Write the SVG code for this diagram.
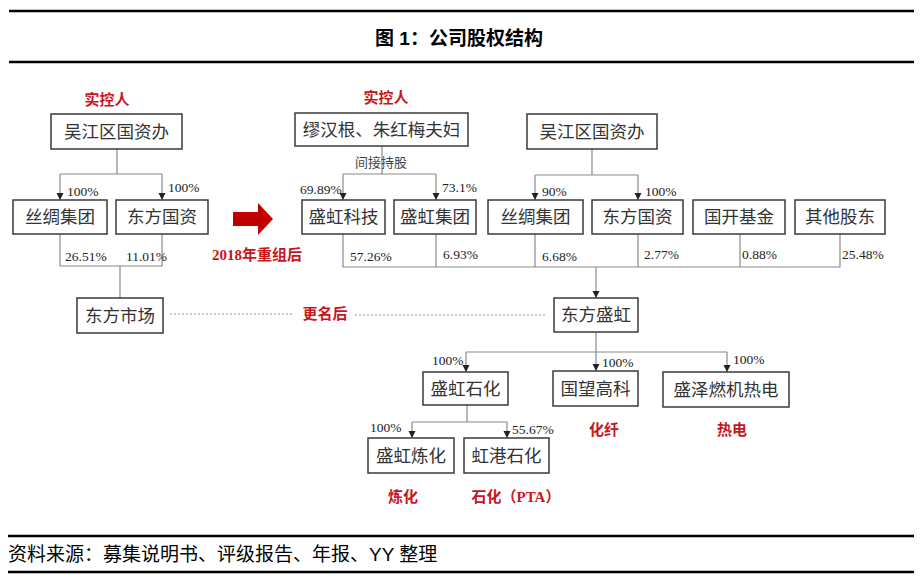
<svg xmlns="http://www.w3.org/2000/svg" width="923" height="580" viewBox="0 0 923 580">
<style>
.box{fill:#fff;stroke:#3a3a3a;stroke-width:1.5}
.bt{font-family:"Liberation Serif","Noto Sans CJK SC",serif;font-size:17.5px;fill:#333;text-anchor:middle;dominant-baseline:central}
.pct{font-family:"Liberation Serif","Noto Sans CJK SC",serif;font-size:13.5px;fill:#222}
.red{font-family:"Liberation Serif","Noto Sans CJK SC",serif;font-size:15px;font-weight:bold;fill:#c8161d;text-anchor:middle;dominant-baseline:central}
.ln{fill:none;stroke:#8a8a8a;stroke-width:1.2}
.ar{fill:none;stroke:#8a8a8a;stroke-width:1.2;marker-end:url(#ah)}
.dot{fill:none;stroke:#999;stroke-width:1;stroke-dasharray:2 2}
.rule{stroke:#000;stroke-width:2.5}
</style>
<defs>
<marker id="ah" markerUnits="userSpaceOnUse" markerWidth="8" markerHeight="8" refX="7" refY="3.5" orient="auto">
<path d="M0,0 L7,3.5 L0,7 Z" fill="#222"/>
</marker>
</defs>
<rect width="923" height="580" fill="#fff"/>
<g id="header">
<line class="rule" x1="9" y1="11" x2="914" y2="11"/>
<text x="459" y="38" font-family="Liberation Sans,'Noto Sans CJK SC',sans-serif" font-size="19" font-weight="bold" text-anchor="middle" dominant-baseline="central" fill="#000">图 1：公司股权结构</text>
<line class="rule" x1="9" y1="62" x2="914" y2="62"/>
</g>
<g id="connectors">
<path class="ln" d="M117 149V174M60 174H162"/>
<path class="ar" d="M60 174V200"/>
<path class="ar" d="M162 174V200"/>
<path class="ln" d="M60 234V266H162V234M120 266V298"/>
<path class="dot" d="M170 314H293M355 315H545"/>
<path class="ln" d="M382 146V174M343 174H436"/>
<path class="ar" d="M343 174V200"/>
<path class="ar" d="M436 174V200"/>
<path class="ln" d="M592 149V175M535 175H638"/>
<path class="ar" d="M535 175V200"/>
<path class="ar" d="M638 175V200"/>
<path class="ln" d="M343 234V267H840V234M436 234V267M535 234V267M638 234V267M740 234V267"/>
<path class="ar" d="M596 267V298"/>
<path class="ln" d="M596 332V352M466 352H727"/>
<path class="ar" d="M466 352V372"/>
<path class="ar" d="M596 352V371"/>
<path class="ar" d="M727 352V372"/>
<path class="ln" d="M467 405V422M412 422H507"/>
<path class="ar" d="M412 422V438"/>
<path class="ar" d="M507 422V438"/>
</g>
<g id="labels">
<text class="pct" x="67" y="196">100%</text>
<text class="pct" x="168" y="192">100%</text>
<text class="pct" x="65" y="261">26.51%</text>
<text class="pct" x="126" y="261">11.01%</text>
<text class="pct" x="300" y="194">69.89%</text>
<text class="pct" x="442" y="192">73.1%</text>
<text class="pct" x="542" y="196">90%</text>
<text class="pct" x="645" y="196">100%</text>
<text class="pct" x="350" y="261">57.26%</text>
<text class="pct" x="443" y="259">6.93%</text>
<text class="pct" x="542" y="261">6.68%</text>
<text class="pct" x="644" y="259">2.77%</text>
<text class="pct" x="742" y="259">0.88%</text>
<text class="pct" x="842" y="259">25.48%</text>
<text class="pct" x="432" y="365">100%</text>
<text class="pct" x="602" y="367">100%</text>
<text class="pct" x="733" y="364">100%</text>
<text class="pct" x="370" y="432">100%</text>
<text class="pct" x="512" y="434">55.67%</text>
<text x="381" y="161" font-family="'Noto Sans CJK SC',sans-serif" font-size="13" fill="#444" text-anchor="middle" dominant-baseline="central">间接持股</text>
<text class="red" x="107" y="100">实控人</text>
<text class="red" x="386" y="98">实控人</text>
<text class="red" x="257" y="255">2018年重组后</text>
<text class="red" x="325" y="314">更名后</text>
<text class="red" x="604" y="430">化纤</text>
<text class="red" x="732" y="430">热电</text>
<text class="red" x="403" y="497">炼化</text>
<text class="red" x="516" y="497">石化（PTA）</text>
</g>
<g id="arrow-big">
<path d="M233 212H258V203L273 219L258 235V226H233Z" fill="#c00000"/>
</g>
<g id="n_wj1"><rect class="box" x="51" y="114" width="131" height="35"/><text class="bt" x="116.5" y="131.5">吴江区国资办</text></g>
<g id="n_sc1"><rect class="box" x="13" y="200" width="94" height="34"/><text class="bt" x="60" y="217">丝绸集团</text></g>
<g id="n_df1"><rect class="box" x="116" y="200" width="92" height="34"/><text class="bt" x="162" y="217">东方国资</text></g>
<g id="n_dfsc"><rect class="box" x="77" y="298" width="86" height="35"/><text class="bt" x="120" y="315.5">东方市场</text></g>
<g id="n_mh"><rect class="box" x="295" y="113" width="173" height="33"/><text class="bt" x="381.5" y="129.5">缪汉根、朱红梅夫妇</text></g>
<g id="n_shkj"><rect class="box" x="302" y="200" width="83" height="34"/><text class="bt" x="343.5" y="217">盛虹科技</text></g>
<g id="n_shjt"><rect class="box" x="394" y="200" width="82" height="34"/><text class="bt" x="435" y="217">盛虹集团</text></g>
<g id="n_wj2"><rect class="box" x="527" y="114" width="130" height="35"/><text class="bt" x="592" y="131.5">吴江区国资办</text></g>
<g id="n_sc2"><rect class="box" x="488" y="200" width="95" height="34"/><text class="bt" x="535.5" y="217">丝绸集团</text></g>
<g id="n_df2"><rect class="box" x="592" y="200" width="91" height="34"/><text class="bt" x="637.5" y="217">东方国资</text></g>
<g id="n_gk"><rect class="box" x="693" y="200" width="92" height="34"/><text class="bt" x="739" y="217">国开基金</text></g>
<g id="n_qt"><rect class="box" x="795" y="200" width="90" height="34"/><text class="bt" x="840" y="217">其他股东</text></g>
<g id="n_dfsh"><rect class="box" x="554" y="298" width="84" height="34"/><text class="bt" x="596" y="315">东方盛虹</text></g>
<g id="n_shsh"><rect class="box" x="423" y="372" width="85" height="33"/><text class="bt" x="465.5" y="388.5">盛虹石化</text></g>
<g id="n_gw"><rect class="box" x="553" y="371" width="85" height="35"/><text class="bt" x="595.5" y="388.5">国望高科</text></g>
<g id="n_sz"><rect class="box" x="663" y="372" width="126" height="35"/><text class="bt" x="726" y="389.5">盛泽燃机热电</text></g>
<g id="n_shlh"><rect class="box" x="368" y="438" width="86" height="35"/><text class="bt" x="411" y="455.5">盛虹炼化</text></g>
<g id="n_hg"><rect class="box" x="464" y="438" width="85" height="35"/><text class="bt" x="506.5" y="455.5">虹港石化</text></g>
<g id="footer">
<line class="rule" x1="8" y1="536" x2="914" y2="536"/>
<text x="8" y="554" font-family="Liberation Sans,'Noto Sans CJK SC',sans-serif" font-size="19" fill="#000" dominant-baseline="central">资料来源：募集说明书、评级报告、年报、YY 整理</text>
<line class="rule" x1="8" y1="572" x2="914" y2="572"/>
</g>
</svg>
